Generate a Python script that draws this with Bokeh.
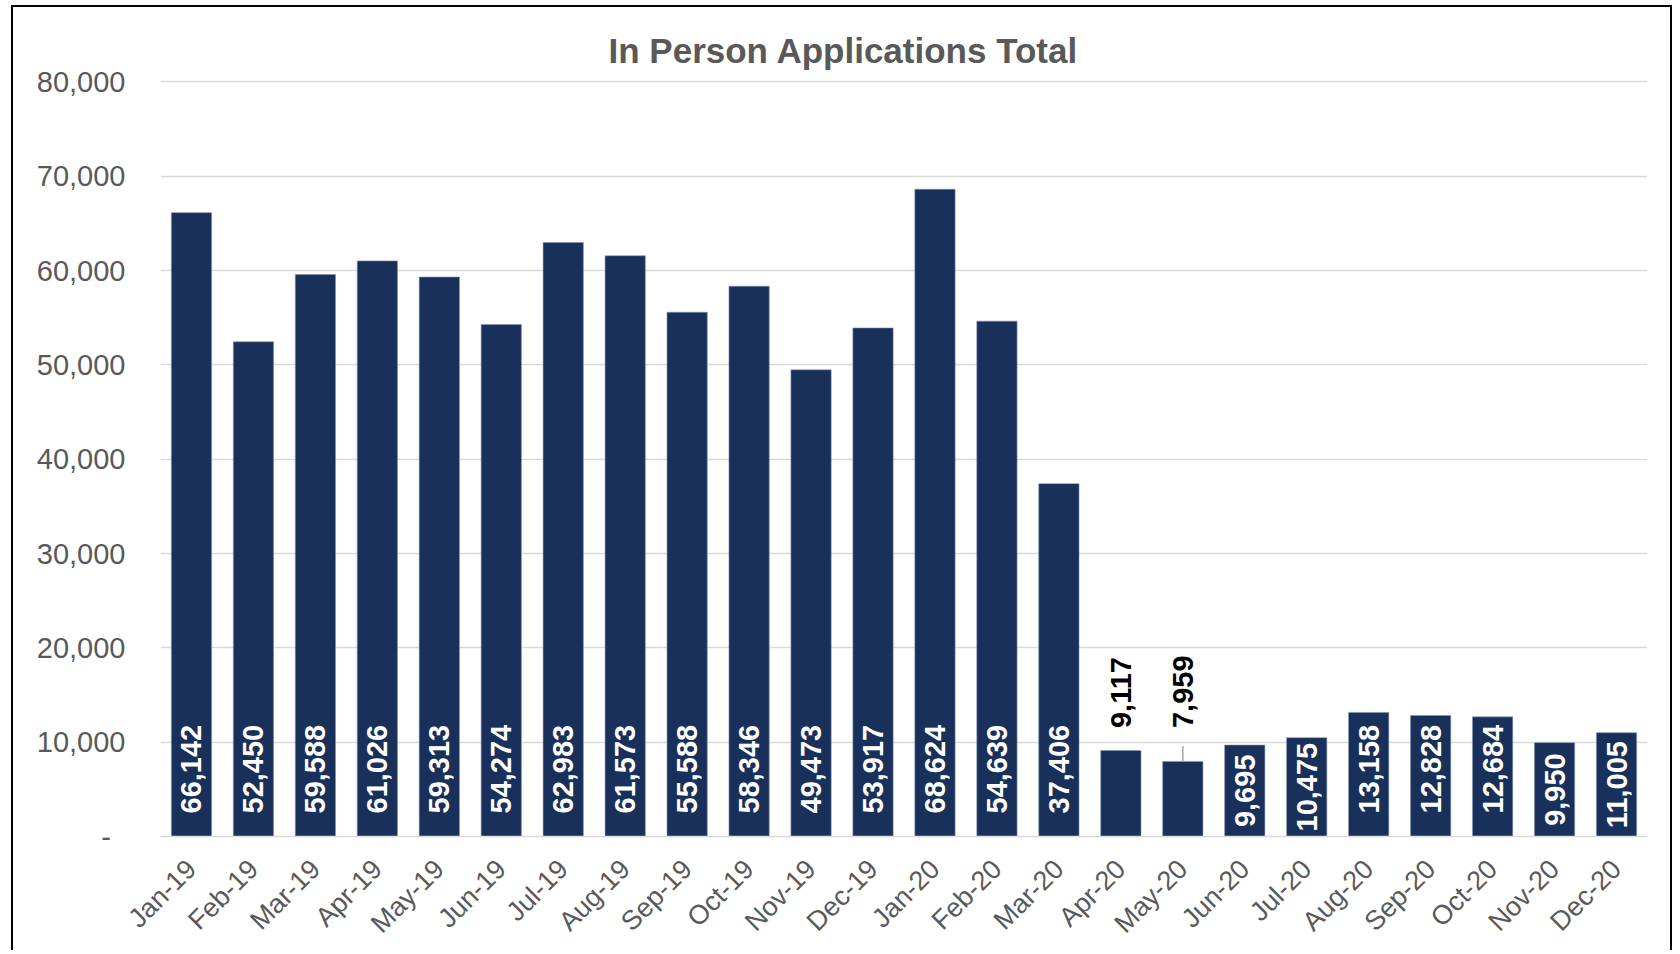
import math
from bokeh.plotting import figure
from bokeh.models import ColumnDataSource, FixedTicker, NumeralTickFormatter, Title
from bokeh.core.properties import value
from bokeh.embed import file_html
from bokeh.resources import INLINE

months = ["Jan-19", "Feb-19", "Mar-19", "Apr-19", "May-19", "Jun-19", "Jul-19", "Aug-19",
          "Sep-19", "Oct-19", "Nov-19", "Dec-19", "Jan-20", "Feb-20", "Mar-20", "Apr-20",
          "May-20", "Jun-20", "Jul-20", "Aug-20", "Sep-20", "Oct-20", "Nov-20", "Dec-20"]
applications = [66142, 52450, 59588, 61026, 59313, 54274, 62983, 61573, 55588, 58346, 49473, 53917,
                68624, 54639, 37406, 9117, 7959, 9695, 10475, 13158, 12828, 12684, 9950, 11005]
outside_label_months = ["Apr-20", "May-20"]
centered_label_months = ["Jun-20", "Jul-20", "Nov-20", "Dec-20"]
leader_months = ["May-20"]
y_ticks = [0, 10000, 20000, 30000, 40000, 50000, 60000, 70000, 80000]

BAR = "#18305a"
GRID = "#d9d9d9"
TXT = "#595959"
FONT = "Liberation Sans"

p = figure(x_range=months, y_range=(0, 80150), width=1661, height=945,
           output_backend="svg", toolbar_location=None,
           min_border_left=147, min_border_right=27, min_border_top=73, min_border_bottom=112)
p.margin = (5, 0, 0, 11)
p.styles = {"border-left": "2px solid #000", "border-top": "2px solid #000",
            "border-right": "2px solid #000"}
p.outline_line_color = None
p.x_range.range_padding = 0


def subset(kind):
    xs, vs, ts = [], [], []
    for m, v in zip(months, applications):
        k = "out" if m in outside_label_months else ("mid" if m in centered_label_months else "base")
        if k == kind:
            xs.append(m)
            vs.append(v)
            ts.append(f"{v:,}")
    return ColumnDataSource(dict(x=xs, v=vs, half=[v / 2 for v in vs], t=ts))


src_base = subset("base")
src_mid = subset("mid")
src_out = subset("out")

p.vbar(x=months, top=applications, width=0.65, fill_color=BAR, line_color="#8496b0", line_width=0.6)

# leader line from the bar top towards its moved label
outside_level = 11500
lead_x = [m for m in months if m in leader_months]
lead_v = [v for m, v in zip(months, applications) if m in leader_months]
p.segment(x0=lead_x, y0=lead_v, x1=lead_x, y1=[outside_level - 1900] * len(lead_x),
          line_color="#a6a6a6", line_width=1.5)

common = dict(angle=math.pi / 2, text_baseline="middle", text_font=value(FONT),
              text_font_style="bold", text_font_size="29px")
p.text(x="x", y=0, text="t", source=src_base, text_align="left", y_offset=-23,
       text_color="white", **common)
p.text(x="x", y="half", text="t", source=src_mid, text_align="center",
       text_color="white", **common)
p.text(x="x", y=outside_level, text="t", source=src_out, text_align="left",
       text_color="black", **common)

p.title = Title(text="In Person Applications Total", align="left", offset=448,
                text_font=FONT, text_font_size="35px", text_font_style="bold",
                text_color=TXT, standoff=22)

p.xgrid.grid_line_color = None
p.ygrid.grid_line_color = GRID
p.ygrid.grid_line_width = 1.5
p.yaxis.ticker = FixedTicker(ticks=y_ticks)
p.yaxis.formatter = NumeralTickFormatter(format="0,0")
p.yaxis.major_label_overrides = {0: "-\u2002"}
p.yaxis.axis_line_color = None
p.yaxis.major_tick_line_color = None
p.yaxis.minor_tick_line_color = None
p.yaxis.major_tick_out = 0
p.yaxis.major_tick_in = 0
p.yaxis.minor_tick_out = 0
p.yaxis.major_label_standoff = 35
p.yaxis.major_label_text_font = FONT
p.yaxis.major_label_text_font_size = "29px"
p.yaxis.major_label_text_color = TXT

p.xaxis.axis_line_color = GRID
p.xaxis.axis_line_width = 1.5
p.xaxis.major_tick_line_color = None
p.xaxis.major_tick_out = 0
p.xaxis.major_tick_in = 0
p.xaxis.major_label_orientation = math.pi / 4
p.xaxis.major_label_standoff = 28
p.xaxis.major_label_text_font = FONT
p.xaxis.major_label_text_font_size = "27px"
p.xaxis.major_label_text_color = TXT

open("out.html", "w").write(file_html(p, INLINE))
